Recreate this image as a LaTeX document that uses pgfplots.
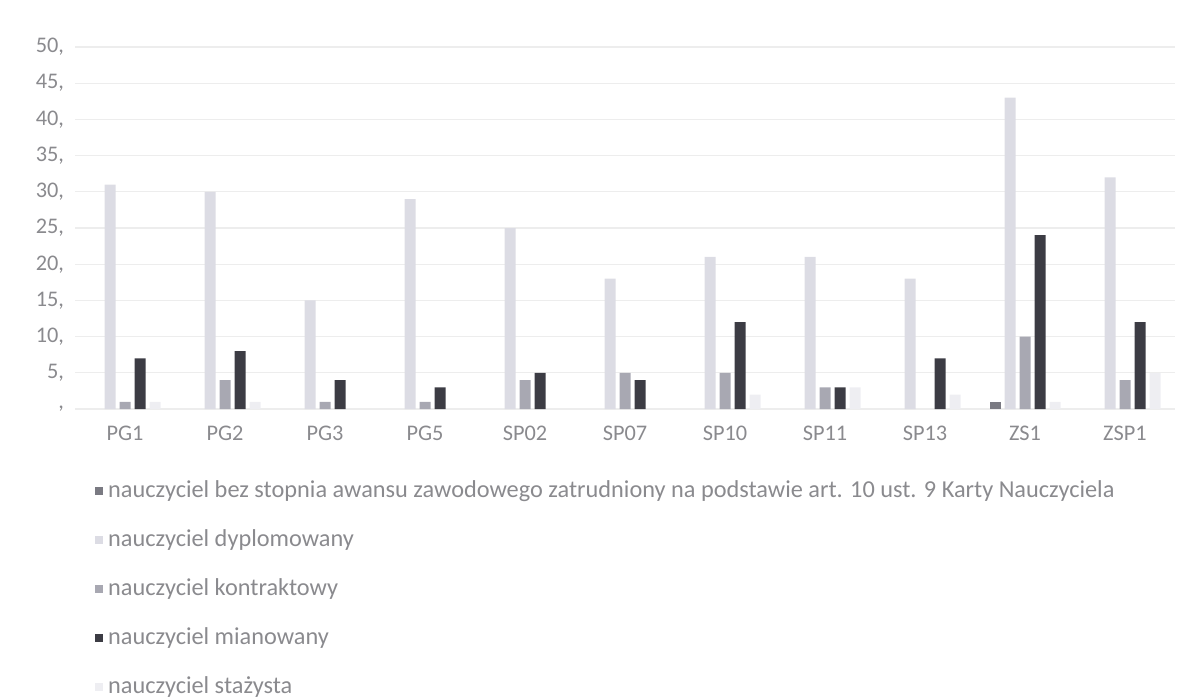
\documentclass[border=0pt]{standalone}
\usepackage{fontspec}
\setmainfont{Carlito}
\usepackage{pgfplots}
\pgfplotsset{compat=1.18}
\definecolor{cbez}{HTML}{7A7A82}
\definecolor{cdyp}{HTML}{DCDCE4}
\definecolor{ckon}{HTML}{A8A8B2}
\definecolor{cmia}{HTML}{3C3C44}
\definecolor{csta}{HTML}{EEEEF2}
\definecolor{ctxt}{HTML}{8A8A8E}
\definecolor{cgrid}{HTML}{EDEDED}
\begin{document}
\begin{tikzpicture}
\useasboundingbox (-37.5bp,-145.5bp) rectangle (557bp,204.5bp);
\begin{axis}[
  at={(0,0)}, anchor=south west,
  scale only axis,
  width=550bp, height=181bp,
  xmin=-0.5, xmax=10.5, ymin=0, ymax=50,
  ybar, bar width=5.5bp,
  xtick={0,...,10},
  xticklabels={PG1,PG2,PG3,PG5,SP02,SP07,SP10,SP11,SP13,ZS1,ZSP1},
  ytick={0,5,...,50},
  yticklabels={{,},{5,},{10,},{15,},{20,},{25,},{30,},{35,},{40,},{45,},{50,}},
  major tick length=0,
  ymajorgrids, grid style={cgrid, line width=0.6pt},
  axis x line*=bottom,
  axis y line*=left,
  y axis line style={draw=none},
  x axis line style={cgrid, line width=0.6pt},
  tick label style={font=\fontsize{11.2}{13}\selectfont, text=ctxt},
  xticklabel style={yshift=-5bp},
  yticklabel style={xshift=-2bp},
  legend style={at={(0.018,-0.19)}, anchor=north west, draw=none, fill=none,
    font=\fontsize{12.2}{14}\selectfont, text=ctxt,
    row sep=11.5bp, column sep=1.5bp, inner sep=0pt,
    nodes={text height=8.5bp, text depth=2.5bp, inner sep=1bp}},
  legend cell align=left,
  legend image code/.code={\fill[#1] (0bp,-1.8bp) rectangle (4bp,2.2bp);},
]
\addplot[fill=cbez, draw=none, bar shift=-15bp] coordinates {(9,1)};
\addplot[fill=cdyp, draw=none, bar shift=-7.5bp] coordinates {(0,31)(1,30)(2,15)(3,29)(4,25)(5,18)(6,21)(7,21)(8,18)(9,43)(10,32)};
\addplot[fill=ckon, draw=none, bar shift=0bp] coordinates {(0,1)(1,4)(2,1)(3,1)(4,4)(5,5)(6,5)(7,3)(9,10)(10,4)};
\addplot[fill=cmia, draw=none, bar shift=7.5bp] coordinates {(0,7)(1,8)(2,4)(3,3)(4,5)(5,4)(6,12)(7,3)(8,7)(9,24)(10,12)};
\addplot[fill=csta, draw=none, bar shift=15bp] coordinates {(0,1)(1,1)(6,2)(7,3)(8,2)(9,1)(10,5)};
\legend{nauczyciel bez stopnia awansu zawodowego zatrudniony na podstawie art. 10 ust. 9 Karty Nauczyciela,
nauczyciel dyplomowany, nauczyciel kontraktowy, nauczyciel mianowany, nauczyciel stażysta}
\end{axis}
\end{tikzpicture}
\end{document}
